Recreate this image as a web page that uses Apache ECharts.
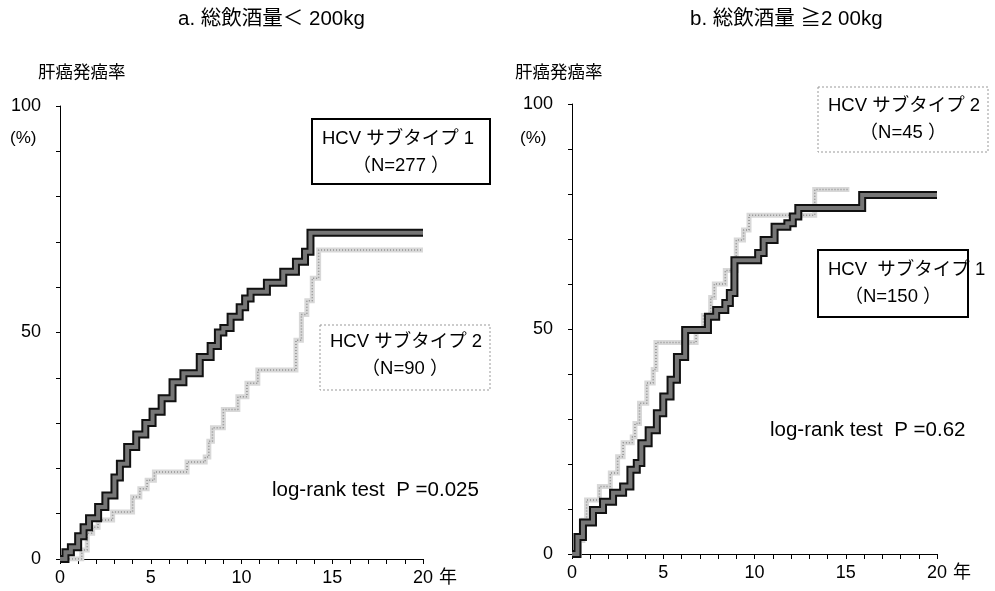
<!DOCTYPE html>
<html>
<head>
<meta charset="utf-8">
<script src="https://cdn.jsdelivr.net/npm/echarts@6/dist/echarts.min.js"></script>
<style>
  html, body { margin: 0; padding: 0; background: #fff; }
  #chart { width: 995px; height: 591px; }
</style>
</head>
<body>
<div id="chart"></div>
<script>
"use strict";
const FONT = '"Liberation Sans", "Noto Sans CJK JP", sans-serif';

// 値は画像から読み取り [年, 発癌率%]
const leftType1 = [
    [0, 0], [0.3, 1.5], [0.6, 2.6], [1.0, 5], [1.3, 7], [1.6, 9], [2.1, 11.5], [2.5, 14],
    [3.0, 18], [3.3, 21], [3.7, 24.7], [4.2, 27.5], [4.7, 30], [5.1, 32.5], [5.6, 35.5],
    [6.2, 39], [6.8, 41], [7.7, 44.6], [8.3, 47], [8.7, 50], [9.0, 51], [9.4, 53.5],
    [9.9, 55.6], [10.2, 57.5], [10.5, 59], [11.4, 61], [12.3, 63.4], [13.0, 65.6],
    [13.5, 67.8], [13.8, 72], [20, 72]
];
const leftType2 = [
    [0, 0], [1.2, 2], [1.5, 5.7], [1.8, 7], [2.1, 8.6], [2.9, 10.4], [4.0, 13.7],
    [4.4, 15.5], [4.8, 17.4], [5.2, 19.2], [7.0, 21.4], [8.0, 22.5], [8.2, 26],
    [8.4, 29], [9.0, 33], [9.8, 35.8], [10.3, 38.8], [10.9, 41.7], [13.0, 48.3],
    [13.3, 54], [13.6, 57], [13.9, 62], [14.25, 68.2], [20, 68.2]
];
const rightType1 = [
    [0, 0], [0.3, 3.8], [0.6, 7], [1.15, 9.8], [1.7, 11.6], [2.25, 13.6], [2.8, 15],
    [3.2, 18.7], [3.55, 20.2], [3.8, 24.6], [4.2, 27.5], [4.65, 31.3], [5.0, 35],
    [5.4, 38.7], [5.75, 43.8], [6.2, 49.8], [7.45, 52.7], [7.9, 54.2], [8.4, 55.8],
    [8.65, 58], [8.9, 65.3], [10.2, 66.9], [10.5, 69.8], [11.1, 72.7], [11.8, 73.5],
    [12.1, 75], [12.4, 76.9], [15.9, 79.8], [20, 79.8]
];
const rightType2 = [
    [0, 0], [0.4, 3], [0.6, 7.5], [0.8, 12], [1.5, 15], [2.1, 18], [2.5, 21.6],
    [2.8, 24.7], [3.3, 26], [3.45, 29], [3.7, 33.5], [4.1, 38], [4.45, 41], [4.6, 47],
    [6.8, 50], [7.2, 53], [7.6, 57], [7.8, 60], [8.4, 63], [9.0, 69.8], [9.4, 72],
    [9.7, 75.3], [13.3, 81], [15.2, 81]
];
const xLabels = [0, 5, 10, 15, 20];
const yLabels = [0, 50, 100];

const chart = echarts.init(document.getElementById('chart'));

function xAxis(gridIndex) {
    return {
        type: 'value', gridIndex, min: 0, max: 20, interval: 1,
        name: '年', nameLocation: 'end', nameGap: 8,
        nameTextStyle: { color: '#000', fontSize: 18, fontFamily: FONT, verticalAlign: 'top', padding: [10, 0, 0, 0] },
        axisLine: { lineStyle: { color: '#000', width: 1 } },
        axisTick: { length: 5, lineStyle: { color: '#000' } },
        splitLine: { show: false },
        axisLabel: {
            color: '#000', fontSize: 18, fontFamily: FONT, margin: 10,
            formatter: v => xLabels.includes(v) ? String(v) : ''
        }
    };
}
function yAxis(gridIndex) {
    return {
        type: 'value', gridIndex, min: 0, max: 100, interval: 10,
        axisLine: { show: true, lineStyle: { color: '#000', width: 1 } },
        axisTick: { show: true, length: 4, lineStyle: { color: '#000' } },
        splitLine: { show: false },
        axisLabel: {
            color: '#000', fontSize: 18, fontFamily: FONT, margin: 19,
            formatter: v => yLabels.includes(v) ? String(v) : ''
        }
    };
}
function darkLine(data, idx) {
    return [
        { type: 'line', step: 'end', data, xAxisIndex: idx, yAxisIndex: idx, symbol: 'none', z: 3,
          lineStyle: { color: '#111', width: 8, join: 'miter', cap: 'butt' } },
        { type: 'line', step: 'end', data, xAxisIndex: idx, yAxisIndex: idx, symbol: 'none', z: 4,
          lineStyle: { color: '#767676', width: 4, join: 'miter', cap: 'butt' } }
    ];
}
function grayLine(data, idx) {
    return [
        { type: 'line', step: 'end', data, xAxisIndex: idx, yAxisIndex: idx, symbol: 'none', z: 2,
          lineStyle: { color: '#d8d8d8', width: 5, join: 'miter', cap: 'butt' } },
        { type: 'line', step: 'end', data, xAxisIndex: idx, yAxisIndex: idx, symbol: 'none', z: 2,
          lineStyle: { color: '#909090', width: 1.5, type: [1, 2] } }
    ];
}
function label(x, y, text, size, align) {
    return { type: 'text', left: x, top: y,
        style: { text, fill: '#000', font: (size || 18) + 'px ' + FONT, textAlign: align || 'left' } };
}
function box(x, y, w, h, dashed, lines, dy) {
    return [
        { type: 'rect', shape: { x, y, width: w, height: h },
          style: dashed ? { fill: '#fff', stroke: '#999', lineWidth: 1, lineDash: [2, 2] }
                        : { fill: '#fff', stroke: '#000', lineWidth: 2 }, z: 10 },
        { type: 'text', x: x + 10, y: y + dy, z: 11,
          style: { text: lines[0], fill: '#000', font: '18.5px ' + FONT } },
        { type: 'text', x: x + w / 2, y: y + dy + 27, z: 11,
          style: { text: lines[1], fill: '#000', font: '18.5px ' + FONT, textAlign: 'center' } }
    ];
}

const option = {
    animation: false,
    backgroundColor: '#fff',
    grid: [
        { left: 60, top: 106, width: 363, height: 453 },
        { left: 572, top: 104, width: 365, height: 450 }
    ],
    xAxis: [xAxis(0), xAxis(1)],
    yAxis: [yAxis(0), yAxis(1)],
    series: [
        ...grayLine(leftType2, 0), ...darkLine(leftType1, 0),
        ...grayLine(rightType2, 1), ...darkLine(rightType1, 1)
    ],
    graphic: [
        label(178, 9, 'a. 総飲酒量＜ 200kg', 20.5),
        label(690, 9, 'b. 総飲酒量 ≧2 00kg', 20.5),
        label(38, 64, '肝癌発癌率', 17.5),
        label(515, 64, '肝癌発癌率', 17.5),
        label(10, 130, '(%)', 17),
        label(520, 130, '(%)', 17),
        ...box(312, 119, 178, 65, false, ['HCV サブタイプ 1', '（N=277 ）'], 11),
        ...box(320, 325, 170, 65, true, ['HCV サブタイプ 2', '（N=90 ）'], 8),
        ...box(818, 87, 170, 65, true, ['HCV サブタイプ 2', '（N=45 ）'], 10),
        ...box(818, 250, 150, 67, false, ['HCV  サブタイプ 1', '（N=150 ）'], 11),
        label(272, 480, 'log-rank test  P =0.025', 20.5),
        label(770, 420, 'log-rank test  P =0.62', 20.5)
    ]
};
chart.setOption(option);
</script>
</body>
</html>
